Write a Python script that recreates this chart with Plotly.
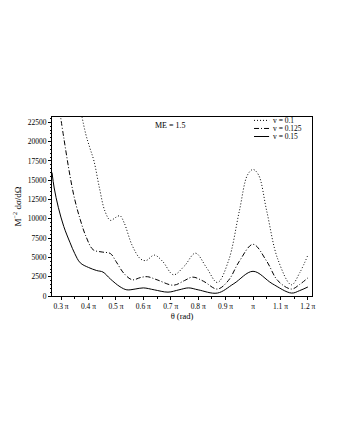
import numpy as np
import plotly.graph_objects as go

# theta in units of pi, cross section values
theta_v010 = [0.372, 0.39, 0.405, 0.42, 0.44, 0.46, 0.48, 0.50, 0.515, 0.53, 0.56, 0.59, 0.61,
              0.64, 0.67, 0.71, 0.75, 0.79, 0.83, 0.87, 0.91, 0.95, 0.98, 1.0, 1.02, 1.05,
              1.09, 1.14, 1.17, 1.2]
sig_v010 = [24000, 21000, 19200, 17500, 14000, 11000, 9800, 10200, 10400, 9500, 6500, 4800, 4600,
            5300, 4500, 2750, 3900, 5550, 3700, 1750, 4500, 11000, 15700, 16400, 15700, 11000,
            4800, 1450, 3000, 5300]

theta_v0125 = [0.295, 0.31, 0.333, 0.35, 0.37, 0.39, 0.417, 0.45, 0.48, 0.50, 0.53, 0.56, 0.59,
               0.615, 0.65, 0.71, 0.75, 0.78, 0.82, 0.87, 0.91, 0.95, 1.0, 1.05, 1.09, 1.14,
               1.17, 1.2]
sig_v0125 = [24000, 20500, 15500, 12500, 9900, 7800, 6000, 5700, 5500, 4500, 2900, 2100, 2400,
             2500, 2100, 1400, 2000, 2450, 1900, 900, 2000, 4500, 6700, 4500, 2000, 900,
             1500, 2350]

theta_v015 = [0.267, 0.275, 0.29, 0.31, 0.333, 0.35, 0.37, 0.40, 0.43, 0.453, 0.48, 0.515, 0.54,
              0.57, 0.6, 0.64, 0.69, 0.73, 0.765, 0.80, 0.87, 0.93, 1.0, 1.07, 1.14, 1.17, 1.2]
sig_v015 = [16000, 14000, 11500, 9000, 6900, 5500, 4300, 3700, 3300, 3100, 2200, 1200, 800,
            900, 1050, 800, 500, 800, 1050, 800, 380, 1600, 3200, 1600, 380, 700, 1170]

tick_pi = [0.3, 0.4, 0.5, 0.6, 0.7, 0.8, 0.9, 1.0, 1.1, 1.2]
tick_text = ['0.3 π', '0.4 π', '0.5 π', '0.6 π', '0.7 π', '0.8 π', '0.9 π', 'π', '1.1 π', '1.2 π']
y_ticks = [0, 2500, 5000, 7500, 10000, 12500, 15000, 17500, 20000, 22500]

FONT = 'Liberation Serif'
DOT = '1px,2px'
DASHDOT = '5px,2px,1px,2px'

fig = go.Figure()
series = [
    (theta_v010, sig_v010, 'v = 0.1', DOT),
    (theta_v0125, sig_v0125, 'v = 0.125', DASHDOT),
    (theta_v015, sig_v015, 'v = 0.15', 'solid'),
]
# hand made legend (plotly's own sample lines are too long / rows too tall)
legend_rows = [0.981, 0.936, 0.891]
for (th, sig, name, dash), ly in zip(series, legend_rows):
    fig.add_trace(go.Scatter(x=np.array(th) * np.pi, y=sig, name=name, mode='lines',
                             line=dict(color='black', width=1, dash=dash, shape='spline', smoothing=1.0)))
    fig.add_shape(type='line', xref='paper', yref='paper', x0=0.777, x1=0.835, y0=ly, y1=ly,
                  line=dict(color='black', width=1, dash=dash))
    fig.add_annotation(text=name, xref='paper', yref='paper', x=0.846, y=ly, xanchor='left',
                       yanchor='middle', showarrow=False, borderpad=0,
                       font=dict(family=FONT, size=7.5, color='black'))

fig.add_annotation(text='ME = 1.5', x=0.454, xref='paper', y=0.955, yref='paper',
                   xanchor='center', yanchor='middle', showarrow=False,
                   font=dict(family=FONT, size=8, color='black'))

fig.update_layout(
    width=340, height=440,
    margin=dict(l=44, r=36, t=109, b=152),
    paper_bgcolor='white', plot_bgcolor='white',
    font=dict(family=FONT, size=7.5, color='black'),
    showlegend=False,
    xaxis=dict(range=[0.267 * np.pi, 1.215 * np.pi], tickvals=[t * np.pi for t in tick_pi],
               ticktext=tick_text, ticks='outside', ticklen=3, tickcolor='black',
               tickfont=dict(family=FONT, size=7.5, color='black'),
               minor=dict(dtick=0.05 * np.pi, tick0=0, ticks='outside', ticklen=2, tickcolor='black'),
               showgrid=False, zeroline=False, showline=True, linecolor='black', linewidth=1,
               mirror=True, automargin=False,
               title=dict(text='θ (rad)', font=dict(family=FONT, size=8.5, color='black'), standoff=3)),
    yaxis=dict(range=[0, 23200], tickvals=y_ticks, ticktext=[str(v) for v in y_ticks],
               ticks='outside', ticklen=3, tickcolor='black',
               tickfont=dict(family=FONT, size=7.5, color='black'),
               minor=dict(dtick=500, ticks='outside', ticklen=1.5, tickcolor='black'),
               showgrid=False, zeroline=False, showline=True, linecolor='black', linewidth=1,
               mirror=True, automargin=False,
               title=dict(text='M<sup>−2</sup> dσ/dΩ', font=dict(family=FONT, size=9, color='black'),
                          standoff=4)),
)

fig.write_html('out.html')
